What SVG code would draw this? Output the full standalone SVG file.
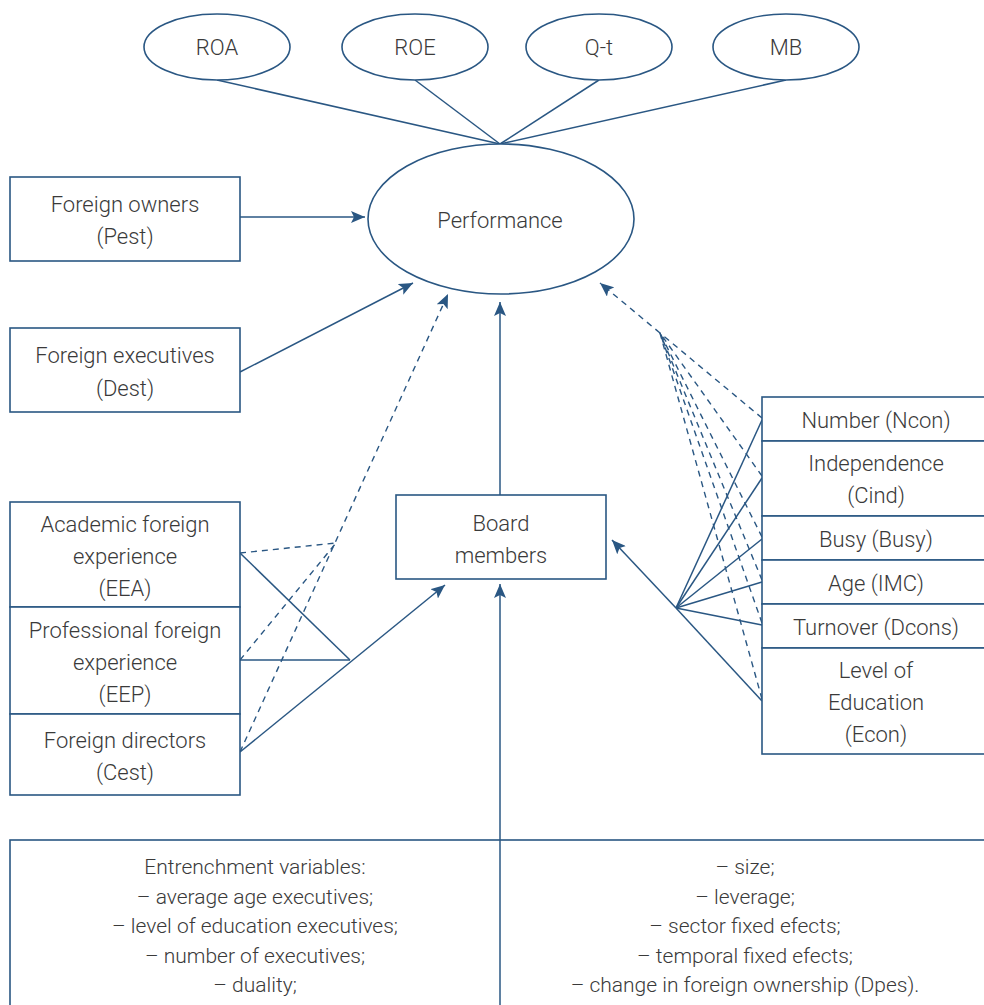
<svg xmlns="http://www.w3.org/2000/svg" width="984" height="1005" viewBox="0 0 984 1005">
<defs>
<style>
.n{fill:#fff;stroke:#2a5783;stroke-width:1.6}
.c{fill:none;stroke:#2a5783;stroke-width:1.5}
.d{fill:none;stroke:#2a5783;stroke-width:1.4;stroke-dasharray:6 5}
text{font-family:Roboto,"Liberation Sans",sans-serif;font-weight:300;font-size:22px;fill:#3a3a3a;text-anchor:middle}
.b{font-size:21px}
</style>
<marker id="a" viewBox="0 0 14 12" refX="14" refY="6" markerWidth="14" markerHeight="12" markerUnits="userSpaceOnUse" orient="auto">
<path d="M0,0 L14,6 L0,12 L3,6 Z" fill="#2a5783"/>
</marker>
</defs>
<rect width="984" height="1005" fill="#fff"/>
<g id="connectors">
<line class="c" x1="217" y1="80" x2="500" y2="144"/>
<line class="c" x1="415" y1="80" x2="500" y2="144"/>
<line class="c" x1="599" y1="80" x2="500" y2="144"/>
<line class="c" x1="786" y1="80" x2="500" y2="144"/>
<line class="c" x1="240" y1="217" x2="365" y2="217" marker-end="url(#a)"/>
<line class="c" x1="240" y1="372" x2="413" y2="283" marker-end="url(#a)"/>
<line class="c" x1="500" y1="495" x2="500" y2="302" marker-end="url(#a)"/>
<line class="c" x1="500" y1="1005" x2="500" y2="584" marker-end="url(#a)"/>
<line class="c" x1="240" y1="553" x2="350" y2="660"/>
<line class="c" x1="240" y1="660" x2="350" y2="660"/>
<line class="c" x1="240" y1="752" x2="445" y2="585" marker-end="url(#a)"/>
<line class="d" x1="240" y1="553" x2="336" y2="543"/>
<line class="d" x1="240" y1="660" x2="336" y2="543"/>
<line class="d" x1="240" y1="752" x2="448" y2="294" marker-end="url(#a)"/>
<line class="c" x1="676" y1="608" x2="612" y2="540" marker-end="url(#a)"/>
<line class="c" x1="676" y1="608" x2="762" y2="420"/>
<line class="c" x1="676" y1="608" x2="762" y2="478"/>
<line class="c" x1="676" y1="608" x2="762" y2="539"/>
<line class="c" x1="676" y1="608" x2="762" y2="582"/>
<line class="c" x1="676" y1="608" x2="762" y2="625"/>
<line class="c" x1="676" y1="608" x2="762" y2="701"/>
<line class="d" x1="762" y1="418" x2="660" y2="333"/>
<line class="d" x1="762" y1="476" x2="660" y2="333"/>
<line class="d" x1="762" y1="537" x2="660" y2="333"/>
<line class="d" x1="762" y1="580" x2="660" y2="333"/>
<line class="d" x1="762" y1="623" x2="660" y2="333"/>
<line class="d" x1="762" y1="699" x2="660" y2="333"/>
<line class="d" x1="660" y1="333" x2="600" y2="283" marker-end="url(#a)"/>
</g>
<g id="roa"><ellipse class="n" cx="217" cy="47" rx="73" ry="33"/><text x="217" y="55">ROA</text></g>
<g id="roe"><ellipse class="n" cx="415" cy="47" rx="73" ry="33"/><text x="415" y="55">ROE</text></g>
<g id="qt"><ellipse class="n" cx="599" cy="47" rx="73" ry="33"/><text x="599" y="55">Q-t</text></g>
<g id="mb"><ellipse class="n" cx="786" cy="47" rx="73" ry="33"/><text x="786" y="55">MB</text></g>
<g id="performance"><ellipse class="n" cx="501" cy="219" rx="133" ry="75"/><text x="500" y="228">Performance</text></g>
<g id="foreign-owners"><rect class="n" x="10" y="177" width="230" height="84"/><text x="125" y="212">Foreign owners</text><text x="125" y="244">(Pest)</text></g>
<g id="foreign-executives"><rect class="n" x="10" y="328" width="230" height="84"/><text x="125" y="363">Foreign executives</text><text x="125" y="396">(Dest)</text></g>
<g id="eea"><rect class="n" x="10" y="502" width="230" height="105"/><text x="125" y="532">Academic foreign</text><text x="125" y="564">experience</text><text x="125" y="596">(EEA)</text></g>
<g id="eep"><rect class="n" x="10" y="607" width="230" height="107"/><text x="125" y="638">Professional foreign</text><text x="125" y="670">experience</text><text x="125" y="702">(EEP)</text></g>
<g id="cest"><rect class="n" x="10" y="714" width="230" height="81"/><text x="125" y="748">Foreign directors</text><text x="125" y="780">(Cest)</text></g>
<g id="board"><rect class="n" x="396" y="495" width="210" height="84"/><text x="501" y="531">Board</text><text x="501" y="563">members</text></g>
<g id="ncon"><rect class="n" x="762" y="397" width="230" height="44"/><text x="876" y="428">Number (Ncon)</text></g>
<g id="cind"><rect class="n" x="762" y="441" width="230" height="75"/><text x="876" y="471">Independence</text><text x="876" y="503">(Cind)</text></g>
<g id="busy"><rect class="n" x="762" y="516" width="230" height="44"/><text x="876" y="547">Busy (Busy)</text></g>
<g id="imc"><rect class="n" x="762" y="560" width="230" height="44"/><text x="876" y="591">Age (IMC)</text></g>
<g id="dcons"><rect class="n" x="762" y="604" width="230" height="44"/><text x="876" y="635">Turnover (Dcons)</text></g>
<g id="econ"><rect class="n" x="762" y="648" width="230" height="106"/><text x="876" y="678">Level of</text><text x="876" y="710">Education</text><text x="876" y="742">(Econ)</text></g>
<g id="controls">
<rect class="n" x="10" y="840" width="990" height="180"/>
<line class="c" x1="500" y1="840" x2="500" y2="1005"/>
<text class="b" x="255" y="874">Entrenchment variables:</text>
<text class="b" x="255" y="904">– average age executives;</text>
<text class="b" x="255" y="933">– level of education executives;</text>
<text class="b" x="255" y="963">– number of executives;</text>
<text class="b" x="255" y="992">– duality;</text>
<text class="b" x="745" y="874">– size;</text>
<text class="b" x="745" y="904">– leverage;</text>
<text class="b" x="745" y="933">– sector fixed efects;</text>
<text class="b" x="745" y="963">– temporal fixed efects;</text>
<text class="b" x="745" y="992">– change in foreign ownership (Dpes).</text>
</g>
</svg>
